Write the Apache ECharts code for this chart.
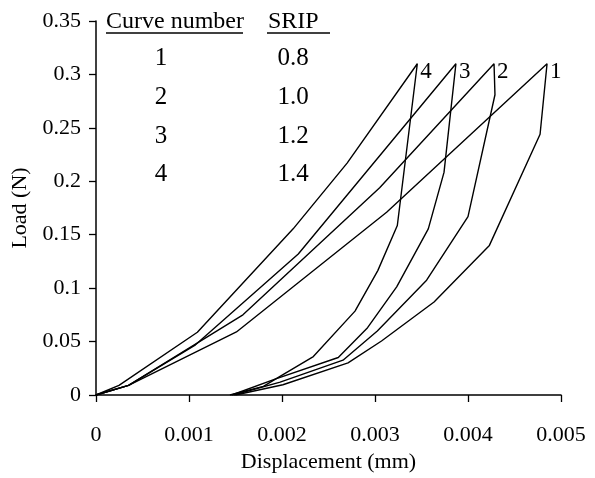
<!DOCTYPE html>
<html>
<head>
<meta charset="utf-8">
<script src="https://cdn.jsdelivr.net/npm/echarts@6/dist/echarts.min.js"></script>
<style>html,body{margin:0;padding:0;background:#fff}#c{width:595px;height:478px}</style>
</head>
<body>
<div id="c"></div>
<script>
// Curve data: displacement (mm) and load (N), loading then unloading
const curve1Disp = [0, 0.00035, 0.00151, 0.003125, 0.00485, 0.004775, 0.00423, 0.003635, 0.00307, 0.00271, 0.00201, 0.0015];
const curve1Load = [0, 0.009, 0.059, 0.171, 0.31, 0.244, 0.14, 0.087, 0.0505, 0.03, 0.0096, 0];
const curve2Disp = [0, 0.00035, 0.00158, 0.00305, 0.00428, 0.00429, 0.004, 0.003555, 0.003025, 0.002656, 0.00198, 0.00148];
const curve2Load = [0, 0.009, 0.075, 0.194, 0.31, 0.281, 0.167, 0.1074, 0.0599, 0.0326, 0.0121, 0];
const curve3Disp = [0, 0.00035, 0.00107, 0.002175, 0.00387, 0.003742, 0.003573, 0.003233, 0.00292, 0.002605, 0.001925, 0.00146];
const curve3Load = [0, 0.009, 0.047, 0.132, 0.31, 0.2083, 0.1555, 0.1012, 0.063, 0.0351, 0.0149, 0];
const curve4Disp = [0, 0.000247, 0.00109, 0.00212, 0.0027, 0.003455, 0.00324, 0.00303, 0.002785, 0.002337, 0.001997, 0.0018, 0.00144];
const curve4Load = [0, 0.009, 0.0587, 0.1555, 0.217, 0.31, 0.1586, 0.1164, 0.0785, 0.036, 0.0183, 0.0081, 0];

const curveNames = ['1', '2', '3', '4'];
const curveNumbers = ['1', '2', '3', '4'];
const sripValues = ['0.8', '1.0', '1.2', '1.4'];
const tableHeaders = ['Curve number', 'SRIP'];
const xTicks = { min: 0, max: 0.005, interval: 0.001 };
const yTicks = { min: 0, max: 0.35, interval: 0.05 };
const xTitle = 'Displacement (mm)';
const yTitle = 'Load (N)';

const FONT = 'Liberation Serif';
const curves = [
  [curve1Disp, curve1Load],
  [curve2Disp, curve2Load],
  [curve3Disp, curve3Load],
  [curve4Disp, curve4Load]
];

function fmt(v) { return String(parseFloat(Number(v).toFixed(4))); }

const series = curves.map((c, i) => {
  const xs = c[0], ys = c[1];
  let peak = 0;
  ys.forEach((y, k) => { if (y > ys[peak]) peak = k; });
  return {
    type: 'line',
    name: curveNames[i],
    data: xs.map((x, k) => {
      const item = { value: [x, ys[k]] };
      if (k === peak) {
        item.label = {
          show: true, position: [3, -3], align: 'left', verticalAlign: 'top',
          color: '#000', fontFamily: FONT, fontSize: 23, formatter: curveNames[i]
        };
      }
      return item;
    }),
    showSymbol: true,
    symbol: 'circle',
    symbolSize: 0,
    itemStyle: { color: 'rgba(0,0,0,0)', borderWidth: 0 },
    silent: true,
    animation: false,
    lineStyle: { color: '#000', width: 1.4 },
    label: { show: false },
    labelLayout: { hideOverlap: false }
  };
});

const graphics = [];
const headerX = [106, 268];
tableHeaders.forEach((h, i) => {
  graphics.push({
    type: 'text', left: headerX[i], top: 10,
    style: { text: h, font: '24px "' + FONT + '"', fill: '#000' }
  });
});
graphics.push({ type: 'line', shape: { x1: 106, y1: 33, x2: 243, y2: 33 }, style: { stroke: '#000', lineWidth: 1.3 } });
graphics.push({ type: 'line', shape: { x1: 267, y1: 33, x2: 330, y2: 33 }, style: { stroke: '#000', lineWidth: 1.3 } });
const rowY = [58, 97, 136, 174];
curveNumbers.forEach((n, i) => {
  graphics.push({
    type: 'text', x: 161, y: rowY[i],
    style: { text: n, font: '25px "' + FONT + '"', fill: '#000', textAlign: 'center', textVerticalAlign: 'middle' }
  });
  graphics.push({
    type: 'text', x: 293, y: rowY[i],
    style: { text: sripValues[i], font: '25px "' + FONT + '"', fill: '#000', textAlign: 'center', textVerticalAlign: 'middle' }
  });
});

const chart = echarts.init(document.getElementById('c'), null, { renderer: 'canvas' });
chart.setOption({
  animation: false,
  backgroundColor: '#fff',
  grid: { left: 96, right: 34, top: 21, bottom: 81, containLabel: false },
  xAxis: {
    type: 'value', min: xTicks.min, max: xTicks.max, interval: xTicks.interval,
    name: xTitle, nameLocation: 'middle', nameGap: 56,
    nameTextStyle: { color: '#000', fontFamily: FONT, fontSize: 22 },
    axisLine: { show: true, onZero: false, lineStyle: { color: '#000', width: 1.5 } },
    axisTick: { show: true, inside: false, length: 7, lineStyle: { color: '#000', width: 1.3 } },
    axisLabel: { color: '#000', fontFamily: FONT, fontSize: 22, margin: 29, formatter: fmt },
    splitLine: { show: false }
  },
  yAxis: {
    type: 'value', min: yTicks.min, max: yTicks.max, interval: yTicks.interval,
    name: yTitle, nameLocation: 'middle', nameGap: 50, nameRotate: 90,
    nameTextStyle: { color: '#000', fontFamily: FONT, fontSize: 22 },
    axisLine: { show: true, onZero: false, lineStyle: { color: '#000', width: 1.5 } },
    axisTick: { show: true, inside: false, length: 7, lineStyle: { color: '#000', width: 1.3 } },
    axisLabel: { color: '#000', fontFamily: FONT, fontSize: 22, margin: 15, formatter: fmt },
    splitLine: { show: false }
  },
  graphic: graphics,
  series: series
});
</script>
</body>
</html>
